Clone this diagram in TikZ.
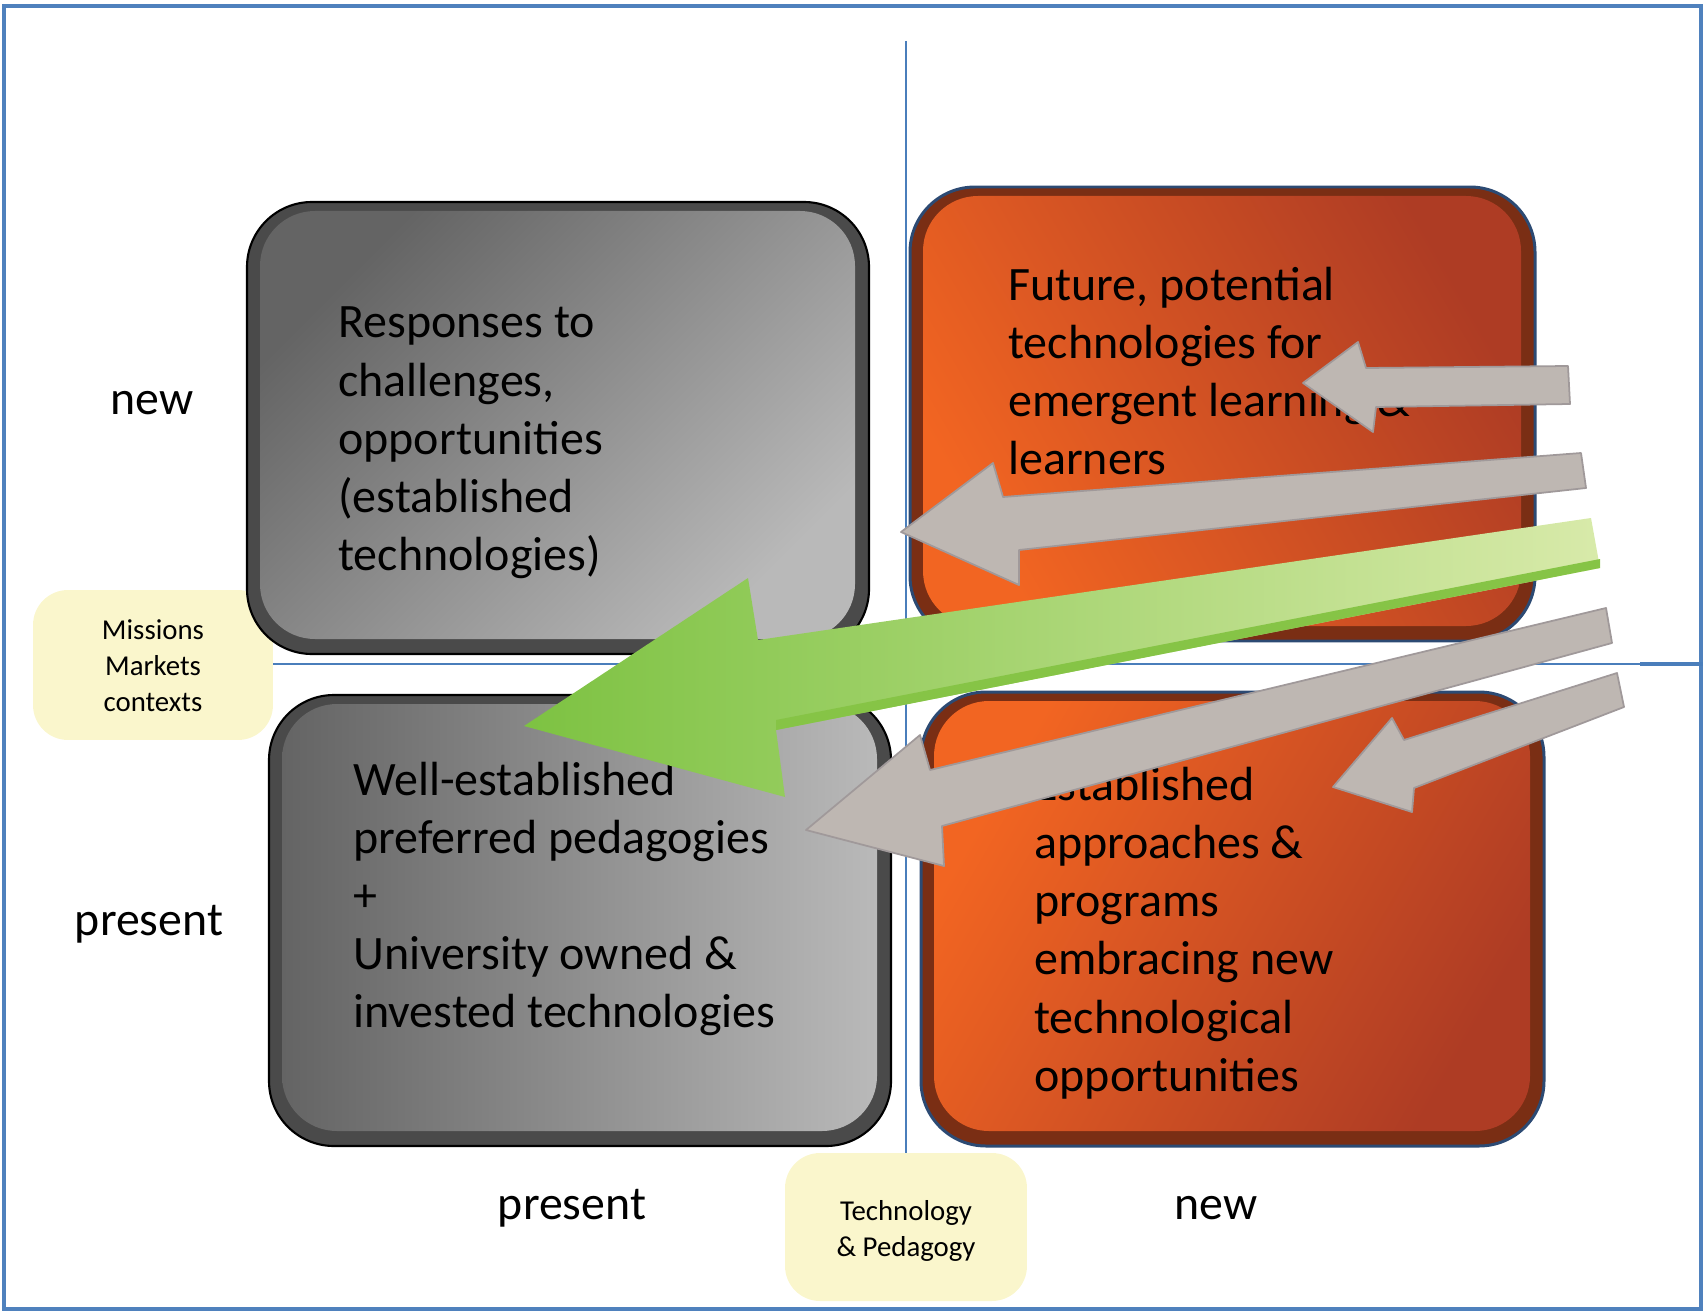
\documentclass[tikz,border=0pt]{standalone}
\usepackage{fontspec}
\setmainfont{Carlito}
\definecolor{axisblue}{HTML}{4A7EBB}
\definecolor{framblue}{HTML}{4F81BD}
\definecolor{yellowbox}{HTML}{FAF6CC}
\definecolor{arrowgray}{HTML}{BEB7B2}
\definecolor{arrowedge}{HTML}{A0999A}
\definecolor{grayrim}{HTML}{4A4A4A}
\definecolor{graydark}{HTML}{646464}
\definecolor{graylight}{HTML}{B9B9B9}
\definecolor{orangerim}{HTML}{7A2E14}
\definecolor{orangeline}{HTML}{2C4A73}
\definecolor{orangebright}{HTML}{F26522}
\definecolor{orangedark}{HTML}{AE3C24}
\definecolor{greenhead}{HTML}{7DC242}
\definecolor{greentail}{HTML}{D8EAAA}
\definecolor{greenedge}{HTML}{86C446}
\newcommand{\bevelbox}[6]{%
  \path[#5] (#1,#2) rectangle (#3,#4);
  \path[#6] ({#1+13},{#2+9}) rectangle ({#3-14},{#4-15});
}
\begin{document}
\begin{tikzpicture}[x=0.02cm,y=-0.02cm,
  bigtext/.style={font=\fontsize{27.3}{33.1}\selectfont, inner sep=0pt, align=left, text=black},
  axislbl/.style={font=\fontsize{27.2}{33.1}\selectfont, inner sep=0pt},
  yellowlbl/.style={fill=yellowbox, rounded corners=0.7cm, inner sep=0pt},
  smalltext/.style={font=\fontsize{16.4}{20.4}\selectfont, align=center, inner sep=0pt},
  axisline/.style={draw=axisblue, line width=1.1pt},
  grayouter/.style={fill=grayrim, draw=black, line width=1.2pt, rounded corners=1.3cm},
  orangeouter/.style={fill=orangerim, draw=orangeline, line width=1.7pt, rounded corners=1.3cm},
  grayarrow/.style={fill=arrowgray, draw=arrowedge, line width=1pt, line join=round},
  greenarrow/.style={left color=greenhead, right color=greentail, line join=round}]
\useasboundingbox (0,0) rectangle (1703,1311);
% frame
\draw[framblue, line width=2.3pt] (4,6) rectangle (1701,1309);
% yellow labels
\node[yellowlbl, minimum width=4.8cm, minimum height=3cm] (missionsbox) at (153,665) {};
\node[smalltext] (missions) at (153,666) {Missions\\Markets\\contexts};
\node[yellowlbl, minimum width=4.84cm, minimum height=2.96cm] (techbox) at (906,1227) {};
\node[smalltext] (tech) at (906,1231) {Technology\\\& Pedagogy};
% axes
\coordinate (vtop) at (906,41);
\coordinate (hright) at (1703,664);
\coordinate (hmid) at (1640,664);
\draw[axisline] (vtop) -- (techbox.north);
\draw[axisline] (missionsbox.east |- hright) -- (hright);
\draw[axisblue, line width=1.8pt] (hmid) -- (hright);
% boxes
\bevelbox{247}{202}{869}{654}{grayouter}{rounded corners=1.1cm, top color=graydark, bottom color=graylight, shading angle=45}
\bevelbox{269}{695}{891}{1146}{grayouter}{rounded corners=1.1cm, top color=graydark, bottom color=graylight, shading angle=90}
\bevelbox{910}{187}{1535}{641}{orangeouter}{rounded corners=1.1cm, top color=orangebright, bottom color=orangedark, shading angle=120}
\bevelbox{921}{692}{1544}{1146}{orangeouter}{rounded corners=1.1cm, top color=orangebright, bottom color=orangedark, shading angle=60}
% box texts
\node[bigtext, anchor=west] (tl) at (338,443) {Responses to\\challenges,\\opportunities\\(established\\technologies)};
\node[bigtext, anchor=west] (tr) at (1008,371) {Future, potential\\technologies for\\emergent learning \&\\learners};
\node[bigtext, anchor=west] (bl) at (353,899) {Well-established\\preferred pedagogies\\+\\University owned \&\\invested technologies};
\node[bigtext, anchor=west] (br) at (1034,933) {Established\\approaches \&\\programs\\embracing new\\technological\\opportunities};
% axis labels
\node[axislbl] (newy) at (152,403) {new};
\node[axislbl] (presenty) at (149,924) {present};
\node[axislbl] (presentx) at (572,1208) {present};
\node[axislbl] (newx) at (1216,1208) {new};
% arrows
\path[grayarrow] (1303,383) -- (1358,342) -- (1366,368) -- (1568,366) -- (1570,404) -- (1376,407) -- (1373,432) -- cycle;
\path[grayarrow] (901,532) -- (993,463) -- (1003,497) -- (1581,453) -- (1586,488) -- (1019,550) -- (1019,585) -- cycle;
\path[greenarrow] (524,726) -- (748,578) -- (758,640) -- (1591,518) -- (1600,568) -- (776,730) -- (785,797) -- cycle;
\path[fill=greenedge] (776,730) -- (1600,568) -- (1600,559) -- (776,720) -- cycle;
\path[grayarrow] (806,830) -- (920,735) -- (930,770) -- (1606,608) -- (1612,643) -- (942,826) -- (944,866) -- cycle;
\path[grayarrow] (1333,787) -- (1392,718) -- (1404,740) -- (1617,673) -- (1624,707) -- (1414,788) -- (1412,812) -- cycle;
\end{tikzpicture}
\end{document}
